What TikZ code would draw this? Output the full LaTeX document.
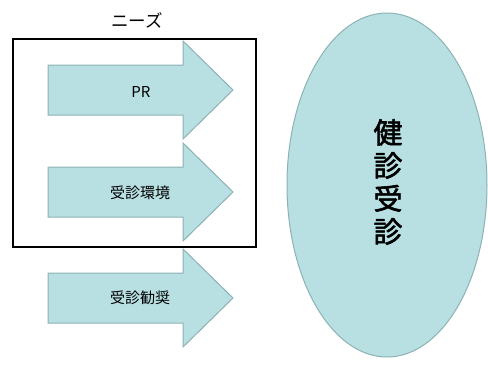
\documentclass[tikz,border=0pt]{standalone}
\usepackage{fontspec}
\setmainfont{Noto Sans CJK JP}
\newfontfamily\jpbold{Noto Sans CJK JP}[FakeBold=2]
\usetikzlibrary{shapes.geometric}
\definecolor{afill}{RGB}{184,223,226}
\definecolor{aline}{RGB}{140,178,180}
\tikzset{
  x=1pt, y=-1pt,
  arrowshape/.style={fill=afill, draw=aline, line width=1pt, line join=miter},
  arrowlabel/.style={font=\fontsize{15}{17}\selectfont, text=black, inner sep=0pt},
  needbox/.style={draw=black, line width=1.5pt},
  bigellipse/.style={ellipse, fill=afill, draw=aline, line width=1pt, minimum width=200pt, minimum height=344pt, inner sep=0pt, align=center},
}
\begin{document}
\begin{tikzpicture}
\useasboundingbox (0,0) rectangle (488,367);
% frame
\draw[needbox] (13,39) rectangle (256,247);
\node[font=\fontsize{17.5}{19}\selectfont, inner sep=0pt] (needs) at (137,20) {ニーズ};
% arrows: center y, shaft half 25, head half 49
\foreach \cy/\nm in {90/a, 192/b, 298/c}{
  \draw[arrowshape] (48,\cy-25) -- (183,\cy-25) -- (183,\cy-49) -- (233,\cy) -- (183,\cy+49) -- (183,\cy+25) -- (48,\cy+25) -- cycle;
}
\node[arrowlabel] (pr) at (141,92) {PR};
\node[arrowlabel] (env) at (140,193) {受診環境};
\node[arrowlabel] (rec) at (140,298) {受診勧奨};
% ellipse
\node[bigellipse] (check) at (387,185) {};
\node[font=\jpbold\fontsize{29}{33}\selectfont, align=center, inner sep=0pt] (checktext) at (388,182) {健\\診\\受\\診};
\end{tikzpicture}
\end{document}
